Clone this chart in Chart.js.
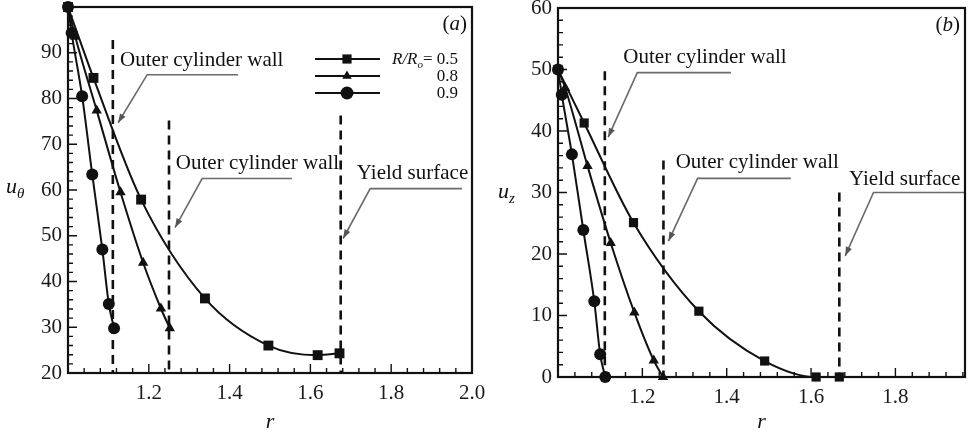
<!DOCTYPE html>
<html><head><meta charset="utf-8">
<script src="https://cdn.jsdelivr.net/npm/chart.js@4.4.1/dist/chart.umd.min.js"></script>
<style>
html,body{margin:0;padding:0;background:#fff;}
#wrap{position:relative;width:974px;height:432px;overflow:hidden;background:#fff;}
.pane{position:absolute;top:0;}
</style></head><body>
<div id="wrap">
<div class="pane" style="left:0;width:490px;height:432px"><canvas id="ca" width="490" height="432"></canvas></div>
<div class="pane" style="left:490px;width:484px;height:432px"><canvas id="cb" width="484" height="432"></canvas></div>
</div>
<script>
// ---------------- DATA ----------------
// Panel (a): u_theta vs r
const R_SQ_A = [1.0, 1.063, 1.181, 1.339, 1.496, 1.618, 1.672];
const U_SQ_A = [100, 84.5, 57.9, 36.3, 26.0, 23.9, 24.3];
const R_TR_A = [1.0, 1.018, 1.071, 1.130, 1.186, 1.230, 1.252];
const U_TR_A = [100, 93.5, 77.4, 59.5, 44.1, 34.1, 29.8];
const R_CI_A = [1.0, 1.009, 1.035, 1.060, 1.085, 1.101, 1.114];
const U_CI_A = [100, 94.3, 80.5, 63.4, 47.0, 35.1, 29.8];
// Panel (b): u_z vs r
const R_SQ_B = [1.0, 1.062, 1.179, 1.334, 1.490, 1.612, 1.667];
const U_SQ_B = [50, 41.3, 25.1, 10.7, 2.6, 0, 0];
const R_TR_B = [1.0, 1.017, 1.070, 1.125, 1.181, 1.227, 1.249];
const U_TR_B = [50, 47.0, 34.3, 21.8, 10.5, 2.7, 0];
const R_CI_B = [1.0, 1.009, 1.033, 1.060, 1.086, 1.100, 1.112];
const U_CI_B = [50, 45.9, 36.2, 23.9, 12.3, 3.7, 0];

// Tick labels
const X_TICKS_A = [1.2, 1.4, 1.6, 1.8, 2.0];
const Y_TICKS_A = [20, 30, 40, 50, 60, 70, 80, 90];
const X_TICKS_B = [1.2, 1.4, 1.6, 1.8];
const Y_TICKS_B = [0, 10, 20, 30, 40, 50, 60];

// Legend
const LEGEND_TITLE = 'R/R';
const LEGEND_VALUES = ['0.5', '0.8', '0.9'];
const LEGEND_STYLES = ['rect', 'triangle', 'circle'];

// Boundary markers (r, top value) for dashed lines
const WALLS_A = [[1.111, 92.8], [1.25, 75.2], [1.675, 76.3]];
const WALLS_B = [[1.111, 49.7], [1.25, 35.2], [1.667, 30.0]];
const WALL_TEXT = ['Outer cylinder wall', 'Outer cylinder wall', 'Yield surface'];

// Label anchors (r, value) and leader polylines
const TEXT_POS_A = [[1.129, 88.3], [1.267, 65.8], [1.715, 63.6]];
const LEADERS_A = [
  [[1.421, 85.2], [1.196, 85.2], [1.124, 74.7]],
  [[1.554, 62.5], [1.332, 62.5], [1.265, 51.8]],
  [[1.975, 60.3], [1.748, 60.3], [1.681, 49.4]]
];
const TEXT_POS_B = [[1.155, 52.0], [1.279, 34.9], [1.690, 32.1]];
const LEADERS_B = [
  [[1.41, 49.5], [1.188, 49.5], [1.119, 39.0]],
  [[1.552, 32.3], [1.331, 32.3], [1.262, 22.1]],
  [[1.965, 30.0], [1.748, 30.0], [1.681, 19.7]]
];

// ---------------- HELPERS ----------------
const FONT = "'Liberation Serif', 'DejaVu Serif', 'Times New Roman', serif";
const INK = '#111';

function pts(rs, us) { return rs.map((r, i) => ({x: r, y: us[i]})); }
function curveDs(rs, us, style, rad) {
  return {data: pts(rs, us), borderColor: INK, backgroundColor: INK, borderWidth: 2,
    pointStyle: style, pointRadius: rad, pointHoverRadius: rad, pointBorderWidth: 0,
    cubicInterpolationMode: 'monotone', clip: false, fill: false};
}
function wallDs(w, ymin) {
  return {data: [{x: w[0], y: w[1]}, {x: w[0], y: ymin}], borderColor: INK, borderWidth: 2.6,
    borderDash: [9, 6], pointRadius: 0, clip: false, fill: false};
}
function leaderDs(L) {
  return {data: L.map(p => ({x: p[0], y: p[1]})), borderColor: '#6a6a6a', borderWidth: 1.6,
    pointRadius: 0, tension: 0, clip: false, fill: false};
}

function scalesCfg(P) {
  const common = (ticksArr, fitFn, fmt, pad) => ({
    type: 'linear',
    afterBuildTicks: s => { s.ticks = ticksArr.map(v => ({value: v})); },
    afterFit: s => { fitFn(s); s.paddingTop = 0; s.paddingBottom = 0; s.paddingLeft = 0; s.paddingRight = 0; },
    grid: {display: false, drawTicks: false},
    border: {display: false},
    ticks: {padding: pad, color: '#1a1a1a', font: {family: FONT, size: 21}, maxRotation: 0, minRotation: 0,
      autoSkip: false, callback: fmt}
  });
  const x = common(P.xTicks, s => { s.height = P.xH; }, v => Number(v).toFixed(1), 8);
  x.min = P.xmin; x.max = P.xmax;
  const y = common(P.yTicks, s => { s.width = 68; }, v => String(Math.round(v)), 6);
  y.min = P.ymin; y.max = P.ymax;
  return {x, y};
}

function marker(ctx, style, x, y, r) {
  ctx.beginPath();
  if (style === 'rect') { const h = r * Math.SQRT1_2; ctx.rect(x - h, y - h, 2 * h, 2 * h); }
  else if (style === 'triangle') {
    ctx.moveTo(x, y - r); ctx.lineTo(x + r * 0.866, y + r * 0.5); ctx.lineTo(x - r * 0.866, y + r * 0.5); ctx.closePath();
  } else { ctx.arc(x, y, r, 0, Math.PI * 2); }
  ctx.fill();
}

function makeDecor(P) {
  return {
    id: 'decor' + P.tag,
    afterDatasetsDraw(chart) {
      const ctx = chart.ctx, xs = chart.scales.x, ys = chart.scales.y;
      ctx.save();
      // arrowheads at leader ends
      ctx.fillStyle = '#555';
      P.leaders.forEach(L => {
        const a = L[L.length - 2], b = L[L.length - 1];
        const x1 = xs.getPixelForValue(a[0]), y1 = ys.getPixelForValue(a[1]);
        const x2 = xs.getPixelForValue(b[0]), y2 = ys.getPixelForValue(b[1]);
        const ang = Math.atan2(y2 - y1, x2 - x1), len = 9, wd = 3.2;
        ctx.beginPath();
        ctx.moveTo(x2, y2);
        ctx.lineTo(x2 - len * Math.cos(ang) + wd * Math.sin(ang), y2 - len * Math.sin(ang) - wd * Math.cos(ang));
        ctx.lineTo(x2 - len * Math.cos(ang) - wd * Math.sin(ang), y2 - len * Math.sin(ang) + wd * Math.cos(ang));
        ctx.closePath(); ctx.fill();
      });
      // annotation texts
      ctx.fillStyle = INK; ctx.font = '21px ' + FONT; ctx.textAlign = 'left'; ctx.textBaseline = 'middle';
      P.textPos.forEach((p, i) => {
        ctx.fillText(WALL_TEXT[i], xs.getPixelForValue(p[0]), ys.getPixelForValue(p[1]));
      });
      ctx.restore();
    },
    afterDraw(chart) {
      const ctx = chart.ctx, A = chart.chartArea, xs = chart.scales.x, ys = chart.scales.y;
      ctx.save();
      ctx.strokeStyle = INK; ctx.lineWidth = 1.4;
      ctx.beginPath();
      for (let k = 0; ; k++) {
        const v = P.xmin + k * 0.04; if (v > P.xmax + 1e-9) break;
        const major = Math.abs(v / 0.2 - Math.round(v / 0.2)) < 1e-6;
        const p = xs.getPixelForValue(v), L = major ? 9 : 5;
        ctx.moveTo(p, A.bottom); ctx.lineTo(p, A.bottom - L);
      }
      for (let k = 0; ; k++) {
        const v = P.ymin + k * 2; if (v > P.ymax + 1e-9) break;
        const major = v % 10 === 0;
        const p = ys.getPixelForValue(v), L = major ? 9 : 5;
        ctx.moveTo(A.left, p); ctx.lineTo(A.left + L, p);
      }
      ctx.stroke();
      ctx.lineWidth = 2.2;
      ctx.strokeRect(A.left, A.top, A.right - A.left, A.bottom - A.top);
      // panel tag
      ctx.fillStyle = INK; ctx.textBaseline = 'alphabetic';
      ctx.textAlign = 'right';
      ctx.font = '21px ' + FONT;
      const tagX = A.right - 5, tagY = A.top + 23;
      ctx.fillText(')', tagX, tagY);
      const wClose = ctx.measureText(')').width;
      ctx.font = 'italic 21px ' + FONT;
      ctx.fillText(P.tag, tagX - wClose, tagY);
      const wTag = ctx.measureText(P.tag).width;
      ctx.font = '21px ' + FONT;
      ctx.fillText('(', tagX - wClose - wTag, tagY);
      // axis titles
      ctx.textAlign = 'left';
      ctx.font = 'italic 22px ' + FONT;
      ctx.fillText('u', P.uX, P.uY);
      const wu = ctx.measureText('u').width;
      ctx.font = 'italic 15px ' + FONT;
      ctx.fillText(P.sub, P.uX + wu, P.uY + 5);
      ctx.font = 'italic 22px ' + FONT; ctx.textAlign = 'center';
      ctx.fillText('r', (A.left + A.right) / 2, 428);
      // legend
      if (P.legend) {
        const rows = [59, 76, 93], radii = [6.5, 5.5, 6.5];
        rows.forEach((y, i) => {
          ctx.strokeStyle = INK; ctx.lineWidth = 2;
          ctx.beginPath(); ctx.moveTo(A.left + 247, y); ctx.lineTo(A.left + 312, y); ctx.stroke();
          ctx.fillStyle = INK; marker(ctx, LEGEND_STYLES[i], A.left + 279, y, radii[i]);
          ctx.textAlign = 'right'; ctx.font = '17px ' + FONT;
          ctx.fillText(LEGEND_VALUES[i], A.left + 390, y + 5);
        });
        ctx.textAlign = 'left';
        let x = A.left + 324; const y = rows[0] + 5;
        ctx.font = 'italic 17px ' + FONT; ctx.fillText(LEGEND_TITLE, x, y); x += ctx.measureText(LEGEND_TITLE).width;
        ctx.font = 'italic 11px ' + FONT; ctx.fillText('o', x, y + 4); x += ctx.measureText('o').width;
        ctx.font = '17px ' + FONT; ctx.fillText('=', x, y);
      }
      ctx.restore();
    }
  };
}

function build(canvasId, P, curves) {
  const datasets = curves.concat(P.walls.map(w => wallDs(w, P.ymin)), P.leaders.map(leaderDs));
  return new Chart(document.getElementById(canvasId), {
    type: 'line',
    data: {datasets},
    options: {
      responsive: false, animation: false, devicePixelRatio: 1, events: [],
      layout: {padding: P.pad},
      plugins: {legend: {display: false}, tooltip: {enabled: false}},
      scales: scalesCfg(P)
    },
    plugins: [makeDecor(P)]
  });
}

const PANEL_A = {tag: 'a', sub: '\u03b8', xmin: 1.0, xmax: 2.0, ymin: 20, ymax: 100,
  xTicks: X_TICKS_A, yTicks: Y_TICKS_A, xH: 59, pad: {left: 0, right: 18, top: 6, bottom: 0},
  walls: WALLS_A, leaders: LEADERS_A, textPos: TEXT_POS_A, uX: 6, uY: 193, legend: true};
const PANEL_B = {tag: 'b', sub: 'z', xmin: 1.0, xmax: 1.965, ymin: 0, ymax: 60,
  xTicks: X_TICKS_B, yTicks: Y_TICKS_B, xH: 55, pad: {left: 0, right: 9, top: 8, bottom: 0},
  walls: WALLS_B, leaders: LEADERS_B, textPos: TEXT_POS_B, uX: 8, uY: 198, legend: false};

build('ca', PANEL_A, [
  curveDs(R_SQ_A, U_SQ_A, 'rect', 7),
  curveDs(R_TR_A, U_TR_A, 'triangle', 6),
  curveDs(R_CI_A, U_CI_A, 'circle', 6)
]);
build('cb', PANEL_B, [
  curveDs(R_SQ_B, U_SQ_B, 'rect', 6.5),
  curveDs(R_TR_B, U_TR_B, 'triangle', 6),
  curveDs(R_CI_B, U_CI_B, 'circle', 6)
]);
</script>
</body></html>
